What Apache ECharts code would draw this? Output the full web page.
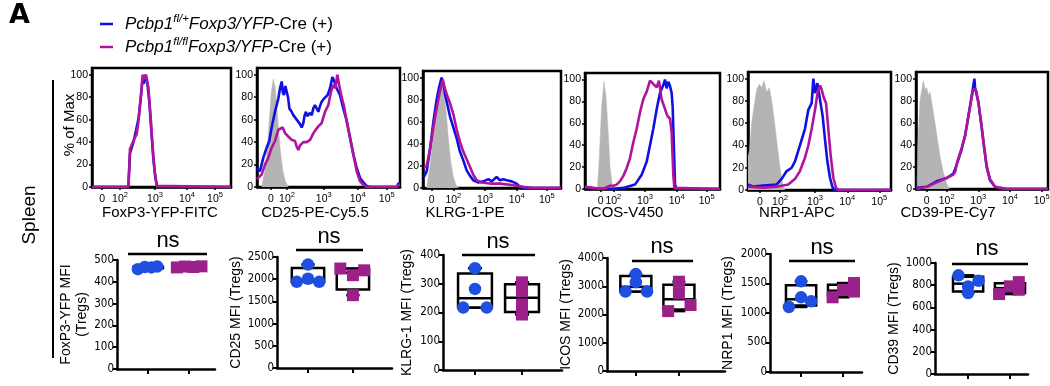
<!DOCTYPE html>
<html><head><meta charset="utf-8">
<script src="https://cdn.jsdelivr.net/npm/echarts@6/dist/echarts.min.js"></script>
<style>html,body{margin:0;padding:0;background:#fff}#c{width:1050px;height:386px}</style>
</head><body><div id="c"></div>
<script>
// ---------------- DATA ----------------
const HIST_MARKERS = ['FoxP3-YFP-FITC','CD25-PE-Cy5.5','KLRG-1-PE','ICOS-V450','NRP1-APC','CD39-PE-Cy7'];
const HIST_Y_TICKS = [0,20,40,60,80,100];
const HIST_X_LABELS = ['0','2','3','4','5']; // "0", 10^2 ... 10^5
// channel positions (0..1024) of the x tick labels for each histogram
const FOXP3_XT = [74,206,464,700,906];
const CD25_XT  = [100,215,478,721,929];
const KLRG1_XT = [64,225,460,696,919];
const ICOS_XT  = [119,215,455,695,923];
const NRP1_XT  = [86,229,480,711,940];
const CD39_XT  = [83,238,483,729,975];

// histogram curves: [channel, % of max]
const FOXP3_HET = [[0,0],[268,0],[280,30],[305,40],[324,50],[344,62],[359,78],[371,95],[381,92],[393,100],[408,92],[423,75],[437,50],[452,25],[467,8],[481,0],[1024,0]];
const FOXP3_KO  = [[0,0],[268,0],[280,34],[305,41],[329,47],[342,58],[354,74],[366,89],[373,100],[383,96],[398,100],[415,89],[432,62],[447,35],[462,14],[477,1],[489,0],[1024,0]];

const CD25_ISO = [[34,0],[57,15],[74,35],[88,60],[103,85],[117,96],[131,88],[146,65],[165,35],[184,15],[203,5],[224,0]];
const CD25_HET = [[0,17],[21,14],[45,26],[69,35],[88,41],[105,53],[129,67],[153,79],[165,88],[177,94],[185,84],[193,82],[203,90],[212,91],[222,80],[232,70],[248,67],[260,64],[272,62],[284,60],[296,59],[308,56],[320,53],[332,57],[341,64],[351,67],[360,63],[368,62],[380,66],[392,64],[403,70],[415,73],[427,70],[439,67],[451,72],[463,76],[475,78],[487,79],[506,82],[523,88],[540,98],[554,94],[570,88],[594,82],[618,70],[642,59],[666,44],[690,29],[714,17],[738,8],[762,4],[785,1],[809,0],[1000,0],[1012,3],[1024,3]];
const CD25_KO  = [[0,7],[33,11],[57,20],[81,26],[105,35],[129,41],[153,51],[165,50],[184,53],[201,48],[224,45],[248,42],[272,41],[284,36],[296,33],[308,37],[320,38],[332,40],[344,39],[356,40],[368,39],[380,42],[392,45],[404,48],[415,50],[427,52],[439,54],[451,55],[463,57],[475,62],[487,67],[499,70],[511,73],[528,84],[547,91],[561,88],[575,100],[590,90],[606,80],[623,72],[642,59],[666,44],[690,29],[714,14],[738,5],[762,2],[785,0],[1000,0],[1012,2],[1024,2]];

const KLRG1_ISO = [[27,0],[52,20],[77,50],[101,72],[121,85],[138,95],[151,88],[171,70],[188,45],[205,25],[225,10],[245,3],[262,0]];
const KLRG1_HET = [[7,10],[27,15],[52,35],[77,60],[101,80],[121,92],[138,100],[151,95],[163,85],[176,78],[200,65],[225,55],[250,45],[274,33],[299,25],[324,16],[349,11],[373,7],[411,5],[448,6],[485,8],[510,6],[522,7],[546,10],[571,7],[596,8],[621,7],[658,6],[695,4],[720,1],[769,0],[1024,0]];
const KLRG1_KO  = [[7,19],[27,20],[52,35],[77,55],[101,72],[121,85],[146,98],[163,90],[176,85],[200,77],[225,67],[250,53],[274,42],[299,33],[324,26],[349,19],[373,12],[398,7],[435,5],[497,4],[571,4],[645,3],[695,2],[744,1],[819,0],[1024,0]];

const ICOS_ISO = [[94,0],[109,30],[126,75],[144,98],[159,85],[177,50],[190,20],[205,5],[215,0]];
const ICOS_HET = [[0,1],[190,0],[291,1],[379,4],[430,13],[468,25],[493,40],[518,55],[544,73],[569,88],[594,95],[607,100],[619,92],[632,98],[645,94],[657,88],[665,75],[675,35],[683,4],[695,0],[1024,0]];
const ICOS_KO  = [[0,2],[63,1],[139,0],[190,3],[215,3],[240,4],[265,7],[291,12],[316,19],[341,28],[367,43],[392,55],[417,70],[442,82],[468,89],[493,99],[518,96],[544,93],[561,99],[581,82],[607,73],[624,67],[645,64],[657,52],[670,13],[678,1],[690,0],[1024,0]];

const NRP1_ISO = [[0,30],[10,35],[26,60],[43,75],[62,90],[81,95],[98,92],[115,98],[134,88],[153,92],[170,80],[186,65],[205,45],[224,25],[241,10],[253,3],[265,0]];
const NRP1_HET = [[0,5],[38,3],[110,4],[205,5],[241,10],[277,17],[313,20],[337,26],[372,40],[408,55],[432,72],[456,78],[468,100],[480,87],[497,96],[516,81],[535,66],[551,46],[568,26],[587,11],[606,2],[623,0],[1024,0]];
const NRP1_KO  = [[0,3],[110,2],[205,3],[289,5],[337,10],[372,17],[408,29],[432,40],[456,55],[480,72],[499,88],[516,94],[528,90],[540,84],[559,78],[575,55],[592,31],[611,11],[630,2],[647,0],[1024,0]];

const CD39_ISO = [[8,0],[14,40],[31,80],[57,98],[70,90],[83,92],[96,85],[109,88],[122,78],[134,70],[160,50],[186,30],[212,15],[238,5],[259,0]];
const CD39_HET = [[5,1],[83,2],[160,7],[238,10],[290,14],[316,22],[328,23],[354,36],[380,48],[398,60],[419,75],[440,90],[453,100],[458,92],[466,88],[484,79],[509,56],[528,38],[548,20],[574,8],[613,2],[652,1],[703,0],[1024,0]];
const CD39_KO  = [[5,0],[83,2],[160,6],[238,10],[290,13],[305,16],[316,23],[328,22],[354,37],[380,48],[398,60],[419,74],[440,88],[453,91],[466,89],[484,78],[509,57],[528,39],[548,21],[574,9],[613,2],[652,1],[703,0],[1024,0]];

// MFI box plots
const MFI_NAMES = ['FoxP3-YFP MFI\n(Tregs)','CD25 MFI (Tregs)','KLRG-1 MFI (Tregs)','ICOS MFI (Tregs)','NRP1 MFI (Tregs)','CD39 MFI (Tregs)'];
const MFI_MAX  = [500,2500,400,4000,2000,1000];
const MFI_STEP = [100,500,100,1000,500,200];
const MFI_SIG  = ['ns','ns','ns','ns','ns','ns'];
// points (values) and horizontal jitter of each point
const FOXP3_MFI_HET = [458,468,466,470];   const FOXP3_JIT_HET = [-0.25,-0.08,0.08,0.22];
const FOXP3_MFI_KO  = [466,470,468,471];   const FOXP3_JIT_KO  = [-0.3,-0.1,0.1,0.3];
const CD25_MFI_HET  = [1940,2330,2010,1940]; const CD25_JIT_HET = [-0.25,0,0,0.25];
const CD25_MFI_KO   = [2240,2090,1640,2200]; const CD25_JIT_KO  = [-0.28,0,0,0.25];
const KLRG1_MFI_HET = [354,282,217,217];   const KLRG1_JIT_HET = [0,0,-0.25,0.25];
const KLRG1_MFI_KO  = [305,275,228,193];   const KLRG1_JIT_KO  = [0,0,0,0];
const ICOS_MFI_HET  = [3430,3145,2813,2813]; const ICOS_JIT_HET = [0,0,-0.24,0.26];
const ICOS_MFI_KO   = [3160,2750,2120,2335]; const ICOS_JIT_KO  = [0,0,-0.25,0.27];
const NRP1_MFI_HET  = [1537,1266,1102,1198]; const NRP1_JIT_HET = [0,0,-0.29,0.24];
const NRP1_MFI_KO   = [1266,1390,1508,1367]; const NRP1_JIT_KO  = [-0.25,0,0.26,0.26];
const CD39_MFI_HET  = [889,840,789,729];   const CD39_JIT_HET = [-0.23,0.25,0,0];
const CD39_MFI_KO   = [720,789,828,759];   const CD39_JIT_KO  = [-0.26,0,0.21,0.21];
// box stats [min, Q1, median, Q3, max]
const FOXP3_BOX_HET = [458,462,467,469,470]; const FOXP3_BOX_KO = [466,467,469,470,471];
const CD25_BOX_HET  = [1940,1940,1975,2250,2330]; const CD25_BOX_KO = [1640,1770,2145,2235,2240];
const KLRG1_BOX_HET = [217,217,250,336,354]; const KLRG1_BOX_KO = [193,202,251,298,305];
const ICOS_BOX_HET  = [2813,2813,2979,3359,3430]; const ICOS_BOX_KO = [2120,2175,2540,3050,3160];
const NRP1_BOX_HET  = [1102,1126,1232,1469,1537]; const NRP1_BOX_KO = [1266,1290,1378,1478,1508];
const CD39_BOX_HET  = [729,744,814,877,889]; const CD39_BOX_KO = [720,730,774,818,828];

// ---------------- LAYOUT / STYLE ----------------
const FONT = 'Liberation Sans, Arial, Helvetica, sans-serif';
const NARROW = 'Liberation Sans Narrow, Arial Narrow, DejaVu Sans Condensed, Liberation Sans, sans-serif';
const C_HET = '#1010e0', C_KO = '#b0149c', C_ISO = '#b4b4b4';
const P_HET = '#1f4fe0', P_KO = '#9c2089';
const HIST_LAYOUT = [
  {l:92,t:68,w:139,h:119},{l:257,t:68,w:143,h:119},{l:423,t:71,w:138,h:117},
  {l:585,t:73,w:135,h:116},{l:748,t:72,w:143,h:118},{l:916,t:72,w:132,h:117}];
const HIST_NAME_POS = [[160,213],[315,213],[465,213],[625,213],[797,213],[948,213]];
const BOX_LAYOUT = [
  {l:117,r:215,t:260,b:369,xmin:0.24,xmax:2.63,gap:27},
  {l:277,r:392,t:257,b:368,xmin:0.31,xmax:2.87,gap:31},
  {l:443,r:562,t:255,b:370,xmin:0.32,xmax:2.85,gap:28},
  {l:607,r:725,t:258,b:371,xmin:0.33,xmax:3.07,gap:29},
  {l:770,r:862,t:254,b:372,xmin:0.26,xmax:2.45,gap:34},
  {l:935,r:1028,t:263,b:374,xmin:0.21,xmax:2.43,gap:25}];
const SIG_LAYOUT = [
  {x:168,y:241,x1:128,x2:207,ly:254},{x:329,y:237,x1:296,x2:363,ly:250},
  {x:498,y:242,x1:462,x2:535,ly:255},{x:662,y:247,x1:632,x2:693,ly:261},
  {x:822,y:248,x1:789,x2:855,ly:261},{x:987,y:249,x1:952,x2:1028,ly:264}];

const HISTS = [
  {xt:FOXP3_XT, iso:null, het:FOXP3_HET, ko:FOXP3_KO},
  {xt:CD25_XT, iso:CD25_ISO, het:CD25_HET, ko:CD25_KO},
  {xt:KLRG1_XT, iso:KLRG1_ISO, het:KLRG1_HET, ko:KLRG1_KO},
  {xt:ICOS_XT, iso:ICOS_ISO, het:ICOS_HET, ko:ICOS_KO},
  {xt:NRP1_XT, iso:NRP1_ISO, het:NRP1_HET, ko:NRP1_KO},
  {xt:CD39_XT, iso:CD39_ISO, het:CD39_HET, ko:CD39_KO}];
const MFIS = [
  {het:FOXP3_MFI_HET,jh:FOXP3_JIT_HET,ko:FOXP3_MFI_KO,jk:FOXP3_JIT_KO,bh:FOXP3_BOX_HET,bk:FOXP3_BOX_KO},
  {het:CD25_MFI_HET,jh:CD25_JIT_HET,ko:CD25_MFI_KO,jk:CD25_JIT_KO,bh:CD25_BOX_HET,bk:CD25_BOX_KO},
  {het:KLRG1_MFI_HET,jh:KLRG1_JIT_HET,ko:KLRG1_MFI_KO,jk:KLRG1_JIT_KO,bh:KLRG1_BOX_HET,bk:KLRG1_BOX_KO},
  {het:ICOS_MFI_HET,jh:ICOS_JIT_HET,ko:ICOS_MFI_KO,jk:ICOS_JIT_KO,bh:ICOS_BOX_HET,bk:ICOS_BOX_KO},
  {het:NRP1_MFI_HET,jh:NRP1_JIT_HET,ko:NRP1_MFI_KO,jk:NRP1_JIT_KO,bh:NRP1_BOX_HET,bk:NRP1_BOX_KO},
  {het:CD39_MFI_HET,jh:CD39_JIT_HET,ko:CD39_MFI_KO,jk:CD39_JIT_KO,bh:CD39_BOX_HET,bk:CD39_BOX_KO}];

const grids=[], xAxes=[], yAxes=[], series=[], graphics=[];

HISTS.forEach((h,i)=>{
  const g = HIST_LAYOUT[i];
  grids.push({left:g.l, top:g.t, width:g.w, height:g.h, show:true, borderColor:'#000', borderWidth:2.5, outerBoundsMode:'none', containLabel:false});
  const labelMap = {};
  h.xt.forEach((v,k)=>{ labelMap[v] = k===0 ? '{b|0}' : '{b|10}{s|'+HIST_X_LABELS[k]+'}'; });
  xAxes.push({gridIndex:i, type:'value', min:0, max:1024,
    axisLine:{show:true, lineStyle:{color:'#000', width:2.5}},
    axisTick:{show:true, customValues:h.xt, length:3, lineStyle:{color:'#000', width:1.5}},
    axisLabel:{show:true, customValues:h.xt, margin:4, formatter:(v)=>labelMap[v]||'',
      rich:{b:{fontSize:10.5, fontFamily:FONT, color:'#000', lineHeight:14, verticalAlign:'bottom'},
            s:{fontSize:7.5, fontFamily:FONT, color:'#000', lineHeight:14, verticalAlign:'top'}}},
    splitLine:{show:false}});
  yAxes.push({gridIndex:i, type:'value', min:0, max:106,
    axisLine:{show:true, lineStyle:{color:'#000', width:2.5}},
    axisTick:{show:true, customValues:HIST_Y_TICKS, length:3, lineStyle:{color:'#000', width:1.5}},
    axisLabel:{show:true, customValues:HIST_Y_TICKS, fontSize:10.5, fontFamily:FONT, color:'#000', margin:4},
    splitLine:{show:false}});
  if (h.iso) series.push({type:'line', xAxisIndex:i, yAxisIndex:i, data:h.iso, showSymbol:false, silent:true,
    lineStyle:{color:C_ISO, width:0.5}, areaStyle:{color:C_ISO, opacity:1}, z:1});
  series.push({type:'line', xAxisIndex:i, yAxisIndex:i, data:h.het, showSymbol:false, silent:true,
    lineStyle:{color:C_HET, width:2.6}, z:2});
  series.push({type:'line', xAxisIndex:i, yAxisIndex:i, data:h.ko, showSymbol:false, silent:true,
    lineStyle:{color:C_KO, width:2.6}, z:3});
  const np = HIST_NAME_POS[i];
  graphics.push({type:'text', x:np[0], y:np[1], style:{text:HIST_MARKERS[i], font:'15px '+FONT, fill:'#000', align:'center', verticalAlign:'middle'}});
});
graphics.push({type:'text', x:70, y:125, rotation:Math.PI/2, style:{text:'% of Max', font:'15px '+FONT, fill:'#000', align:'center', verticalAlign:'middle'}});

function renderBox(params, api){
  const x = api.value(0);
  const s = [1,2,3,4,5].map(k=>api.coord([x, api.value(k)]));
  const cx = s[0][0];
  const hw = api.size([0.36,0])[0], cw = api.size([0.15,0])[0];
  const ls = {stroke:'#000', lineWidth:2.5, fill:null};
  return {type:'group', children:[
    {type:'line', shape:{x1:cx,y1:s[0][1],x2:cx,y2:s[1][1]}, style:ls},
    {type:'line', shape:{x1:cx,y1:s[3][1],x2:cx,y2:s[4][1]}, style:ls},
    {type:'line', shape:{x1:cx-cw,y1:s[0][1],x2:cx+cw,y2:s[0][1]}, style:ls},
    {type:'line', shape:{x1:cx-cw,y1:s[4][1],x2:cx+cw,y2:s[4][1]}, style:ls},
    {type:'rect', shape:{x:cx-hw,y:s[3][1],width:2*hw,height:s[1][1]-s[3][1]}, style:{fill:'#fff',stroke:'#000',lineWidth:2.5}},
    {type:'line', shape:{x1:cx-hw,y1:s[2][1],x2:cx+hw,y2:s[2][1]}, style:ls}
  ]};
}

MFIS.forEach((m,j)=>{
  const i = 6+j, b = BOX_LAYOUT[j];
  grids.push({left:b.l, top:b.t, width:b.r-b.l, height:b.b-b.t, show:false, outerBoundsMode:'none', containLabel:false});
  xAxes.push({gridIndex:i, type:'value', min:b.xmin, max:b.xmax,
    axisLine:{show:true, onZero:false, lineStyle:{color:'#000', width:2.5}},
    axisTick:{show:true, customValues:[1,2], length:5, lineStyle:{color:'#000', width:2}},
    axisLabel:{show:false}, splitLine:{show:false}});
  yAxes.push({gridIndex:i, type:'value', min:0, max:MFI_MAX[j], interval:MFI_STEP[j],
    axisLine:{show:true, lineStyle:{color:'#000', width:2.5}},
    axisTick:{show:true, length:4, lineStyle:{color:'#000', width:2}},
    axisLabel:{fontSize:11.5, fontFamily:NARROW, color:'#000', margin:3, formatter:(v)=>String(v)},
    splitLine:{show:false},
    name:MFI_NAMES[j], nameLocation:'middle', nameRotate:90, nameGap:b.gap,
    nameTextStyle:{fontSize:14, fontFamily:FONT, color:'#000', lineHeight:16}});
  series.push({type:'custom', xAxisIndex:i, yAxisIndex:i, renderItem:renderBox, silent:true, clip:false,
    encode:{x:0, y:[1,2,3,4,5]}, data:[[1].concat(m.bh),[2].concat(m.bk)], z:2});
  series.push({type:'scatter', xAxisIndex:i, yAxisIndex:i, symbol:'circle', symbolSize:12.5, silent:true,
    itemStyle:{color:P_HET, opacity:1}, data:m.het.map((v,k)=>[1+m.jh[k], v]), z:3});
  series.push({type:'scatter', xAxisIndex:i, yAxisIndex:i, symbol:'rect', symbolSize:12, silent:true,
    itemStyle:{color:P_KO, opacity:1}, data:m.ko.map((v,k)=>[2+m.jk[k], v]), z:3});
  const sg = SIG_LAYOUT[j];
  graphics.push({type:'text', x:sg.x, y:sg.y, style:{text:MFI_SIG[j], font:'22px '+FONT, fill:'#000', align:'center', verticalAlign:'middle'}});
  graphics.push({type:'line', shape:{x1:sg.x1,y1:sg.ly,x2:sg.x2,y2:sg.ly}, style:{stroke:'#000', lineWidth:2.5}});
});

// panel letter, legend, tissue label
graphics.push({type:'text', x:9, y:16, style:{text:'A', font:'bold 27px DejaVu Sans, '+FONT, fill:'#000', verticalAlign:'middle'}});
const legendRich = {
  i:{fontStyle:'italic', fontSize:17, fontFamily:FONT, fill:'#000', lineHeight:20, verticalAlign:'bottom'},
  s:{fontStyle:'italic', fontSize:11.5, fontFamily:FONT, fill:'#000', lineHeight:20, verticalAlign:'top'},
  n:{fontSize:17, fontFamily:FONT, fill:'#000', lineHeight:20, verticalAlign:'bottom'}};
graphics.push({type:'line', shape:{x1:100,y1:24,x2:113,y2:24}, style:{stroke:C_HET, lineWidth:2.5}});
graphics.push({type:'line', shape:{x1:100,y1:47,x2:113,y2:47}, style:{stroke:C_KO, lineWidth:2.5}});
graphics.push({type:'text', x:125, y:23, style:{text:'{i|Pcbp1}{s|fl/+}{i|Foxp3/YFP}{n|-Cre (+)}', rich:legendRich, verticalAlign:'middle'}});
graphics.push({type:'text', x:125, y:46, style:{text:'{i|Pcbp1}{s|fl/fl}{i|Foxp3/YFP}{n|-Cre (+)}', rich:legendRich, verticalAlign:'middle'}});
graphics.push({type:'text', x:30, y:215, rotation:Math.PI/2, style:{text:'Spleen', font:'19px '+FONT, fill:'#000', align:'center', verticalAlign:'middle'}});
graphics.push({type:'line', shape:{x1:53,y1:80,x2:53,y2:358}, style:{stroke:'#000', lineWidth:2}});

const chart = echarts.init(document.getElementById('c'));
chart.setOption({animation:false, backgroundColor:'#fff', grid:grids, xAxis:xAxes, yAxis:yAxes, series:series, graphic:graphics});
</script></body></html>
